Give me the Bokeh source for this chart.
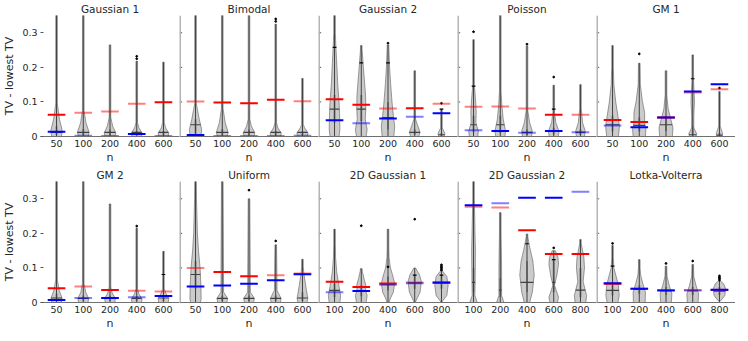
import numpy as np
from bokeh.plotting import figure
from bokeh.layouts import gridplot
from bokeh.models import Range1d, FixedTicker, ColumnDataSource, Span
from bokeh.embed import file_html
from bokeh.resources import INLINE

# ---------------- data ----------------
TITLES = ["Gaussian 1", "Bimodal", "Gaussian 2", "Poisson", "GM 1",
          "GM 2", "Uniform", "2D Gaussian 1", "2D Gaussian 2", "Lotka-Volterra"]
N_LABELS_A = ["50", "100", "200", "400", "600"]
N_LABELS_B = ["100", "200", "400", "600", "800"]
PANEL_N_LABELS = [N_LABELS_A] * 7 + [N_LABELS_B] * 3
Y_TICKS = [0, 0.1, 0.2, 0.3]
Y_TICK_LABELS = ["0", "0.1", "0.2", "0.3"]
X_LABEL = "n"
Y_LABEL = "TV - lowest TV"

RED_VALUES = [
    [0.063, 0.069, 0.072, 0.095, 0.099],
    [0.101, 0.098, 0.096, 0.106, 0.102],
    [0.108, 0.092, 0.081, 0.082, 0.095],
    [0.086, 0.087, 0.081, 0.063, 0.063],
    [0.048, 0.042, 0.055, 0.127, 0.137],
    [0.041, 0.046, 0.036, 0.034, 0.032],
    [0.100, 0.088, 0.076, 0.079, 0.084],
    [0.060, 0.045, 0.055, 0.058, 0.057],
    [0.277, 0.275, 0.209, 0.140, 0.140],
    [0.054, 0.040, 0.036, 0.036, 0.036],
]
RED_ALPHA = [
    [1, .5, .5, .5, 1],
    [.5, 1, 1, 1, .5],
    [1, 1, .5, 1, .5],
    [.5, .5, .5, 1, .5],
    [1, 1, 1, .5, .5],
    [1, .5, 1, .5, .5],
    [.5, 1, 1, .5, .5],
    [1, 1, 1, .5, 1],
    [.5, .5, 1, 1, 1],
    [1, .5, .5, .5, 1],
]
BLUE_VALUES = [
    [0.014, 0.002, 0.000, 0.007, 0.000],
    [0.004, 0.000, 0.000, 0.000, 0.002],
    [0.047, 0.038, 0.052, 0.057, 0.067],
    [0.018, 0.016, 0.011, 0.016, 0.012],
    [0.032, 0.027, 0.055, 0.130, 0.151],
    [0.007, 0.013, 0.013, 0.015, 0.019],
    [0.046, 0.049, 0.054, 0.064, 0.082],
    [0.030, 0.033, 0.051, 0.056, 0.058],
    [0.281, 0.287, 0.303, 0.303, 0.320],
    [0.056, 0.040, 0.035, 0.035, 0.037],
]
BLUE_ALPHA = [
    [1, .5, 1, 1, 1],
    [1, 1, 1, 1, .5],
    [1, .5, 1, .5, 1],
    [.5, 1, .5, 1, .5],
    [.5, 1, 1, 1, 1],
    [1, .5, 1, .5, 1],
    [1, 1, 1, 1, 1],
    [.5, 1, .5, .5, 1],
    [1, .5, 1, 1, .5],
    [1, 1, 1, .5, 1],
]
WHISKER_TOP = [
    [0.36, 0.36, 0.265, 0.218, 0.215],
    [0.36, 0.36, 0.36, 0.325, 0.168],
    [0.36, 0.263, 0.265, 0.190, 0.079],
    [0.280, 0.36, 0.262, 0.148, 0.150],
    [0.263, 0.212, 0.190, 0.236, 0.130],
    [0.36, 0.36, 0.285, 0.215, 0.148],
    [0.36, 0.36, 0.300, 0.167, 0.125],
    [0.212, 0.098, 0.212, 0.100, 0.088],
    [0.36, 0.260, 0.198, 0.150, 0.182],
    [0.165, 0.124, 0.105, 0.110, 0.062],
]
OUTLIERS = [
    [[], [], [], [0.225, 0.232], []],
    [[], [], [], [0.333, 0.340], []],
    [[], [], [0.270], [], [0.096]],
    [[0.303], [], [0.267], [0.172], []],
    [[], [0.239], [], [], [0.140]],
    [[], [], [], [0.221], []],
    [[], [], [0.325], [0.178], []],
    [[], [0.222], [0.103], [0.241], [0.093, 0.097, 0.101, 0.105, 0.109]],
    [[], [], [], [0.158], []],
    [[0.171], [], [0.113], [0.120], [0.065, 0.069, 0.073, 0.077]],
]
MEDIANS = [
    [0.012, 0.012, 0.012, 0.012, 0.012],
    [0.034, 0.012, 0.012, 0.012, 0.012],
    [0.079, 0.079, 0.055, 0.012, 0.005],
    [0.034, 0.034, 0.012, 0.015, 0.012],
    [0.034, 0.032, 0.034, 0.005, 0.004],
    [0.013, 0.012, 0.012, 0.012, 0.013],
    [0.081, 0.012, 0.012, 0.012, 0.013],
    [0.035, 0.033, 0.053, 0.057, 0.057],
    [0.058, 0.036, 0.058, 0.058, 0.036],
    [0.035, 0.038, 0.034, 0.034, 0.033],
]
Q1 = [
    [0.004, 0.004, 0.004, 0.004, 0.004],
    [0.008, 0.004, 0.004, 0.004, 0.004],
    [0.040, 0.045, 0.020, 0.005, 0.000],
    [0.012, 0.010, 0.004, 0.006, 0.004],
    [0.015, 0.015, 0.015, 0.002, 0.001],
    [0.004, 0.004, 0.004, 0.004, 0.004],
    [0.040, 0.004, 0.004, 0.004, 0.004],
    [0.015, 0.018, 0.035, 0.040, 0.040],
    [0.030, 0.015, 0.030, 0.030, 0.015],
    [0.020, 0.025, 0.022, 0.022, 0.022],
]
Q3 = [
    [0.030, 0.022, 0.020, 0.016, 0.016],
    [0.050, 0.022, 0.020, 0.016, 0.015],
    [0.120, 0.120, 0.100, 0.020, 0.010],
    [0.060, 0.060, 0.020, 0.025, 0.020],
    [0.060, 0.055, 0.060, 0.030, 0.010],
    [0.025, 0.020, 0.020, 0.018, 0.020],
    [0.120, 0.020, 0.020, 0.020, 0.030],
    [0.055, 0.050, 0.075, 0.079, 0.079],
    [0.100, 0.070, 0.120, 0.124, 0.100],
    [0.055, 0.050, 0.045, 0.045, 0.045],
]
MARKS = [
    [[], [], [], [], []],
    [[], [], [], [], []],
    [[0.258], [0.213], [0.213], [], [0.079]],
    [[0.146], [], [], [0.079], []],
    [[], [], [], [0.167], []],
    [[], [], [], [], [0.081]],
    [[], [], [], [], []],
    [[], [], [], [0.079], [0.079]],
    [[], [], [0.170], [0.124], []],
    [[0.105], [], [], [], []],
]
# violin outline knots: (value, half width in category units)
SHAPES = [
    [[(0, .18), (.015, .22), (.05, .11), (.095, .03)],
     [(0, .18), (.012, .22), (.04, .10), (.075, .03)],
     [(0, .18), (.010, .22), (.03, .10), (.055, .03)],
     [(0, .18), (.010, .20), (.025, .08), (.04, .03)],
     [(0, .18), (.010, .20), (.025, .08), (.04, .03)]],
    [[(0, .20), (.02, .23), (.05, .14), (.095, .03)],
     [(0, .18), (.012, .22), (.04, .11), (.08, .03)],
     [(0, .18), (.010, .22), (.03, .09), (.05, .03)],
     [(0, .18), (.010, .21), (.025, .08), (.04, .03)],
     [(0, .18), (.010, .21), (.025, .08), (.035, .03)]],
    [[(0, .17), (.02, .20), (.06, .19), (.10, .17), (.15, .12), (.20, .09), (.26, .05), (.30, .03)],
     [(0, .18), (.02, .22), (.05, .15), (.08, .17), (.12, .16), (.20, .08), (.25, .03)],
     [(0, .22), (.03, .25), (.06, .20), (.10, .15), (.15, .10), (.20, .06), (.26, .03)],
     [(0, .15), (.012, .20), (.03, .12), (.05, .03)],
     [(0, .10), (.008, .13), (.025, .03)]],
    [[(0, .16), (.015, .18), (.04, .09), (.07, .10), (.10, .08), (.15, .03)],
     [(0, .17), (.015, .20), (.05, .11), (.09, .06), (.13, .03)],
     [(0, .17), (.015, .20), (.04, .10), (.075, .03)],
     [(0, .17), (.015, .20), (.04, .08), (.07, .03)],
     [(0, .15), (.015, .18), (.04, .08), (.08, .03)]],
    [[(0, .22), (.03, .26), (.06, .20), (.10, .12), (.15, .05), (.20, .03)],
     [(0, .23), (.02, .25), (.04, .20), (.07, .20), (.10, .12), (.15, .04)],
     [(0, .24), (.025, .26), (.05, .18), (.08, .08), (.12, .03)],
     [(0, .12), (.008, .15), (.025, .04), (.06, .04), (.10, .065), (.13, .05), (.16, .03)],
     [(0, .10), (.008, .12), (.03, .03)]],
    [[(0, .18), (.012, .21), (.035, .10), (.065, .03)],
     [(0, .18), (.012, .20), (.03, .09), (.055, .03)],
     [(0, .18), (.012, .20), (.028, .08), (.045, .03)],
     [(0, .18), (.010, .20), (.025, .08), (.04, .03)],
     [(0, .18), (.012, .20), (.028, .08), (.04, .03)]],
    [[(0, .18), (.01, .21), (.05, .20), (.10, .17), (.15, .11), (.20, .07), (.30, .035)],
     [(0, .17), (.012, .20), (.03, .05)],
     [(0, .17), (.012, .20), (.03, .05)],
     [(0, .17), (.012, .20), (.035, .05)],
     [(0, .17), (.012, .20), (.05, .12), (.085, .05), (.105, .03)]],
    [[(0, .20), (.02, .23), (.05, .16), (.09, .08), (.13, .04), (.17, .03)],
     [(0, .18), (.02, .22), (.035, .16), (.05, .17), (.07, .10), (.09, .04)],
     [(0, .04), (.01, .08), (.03, .20), (.055, .25), (.08, .17), (.10, .09), (.13, .04), (.16, .03)],
     [(0, .02), (.01, .08), (.03, .20), (.06, .25), (.08, .18), (.10, .03)],
     [(0, .01), (.005, .05), (.02, .20), (.05, .25), (.075, .20), (.09, .05)]],
    [[(0, .14), (.02, .05), (.06, .06), (.15, .07), (.22, .05), (.30, .03)],
     [(0, .14), (.02, .05), (.10, .05), (.20, .03)],
     [(0, .10), (.03, .20), (.08, .27), (.12, .22), (.16, .10), (.19, .03)],
     [(0, .14), (.015, .18), (.05, .03), (.08, .12), (.11, .18), (.13, .16), (.15, .06)],
     [(0, .20), (.02, .23), (.06, .10), (.10, .15), (.13, .13), (.17, .03)]],
    [[(0, .20), (.02, .25), (.05, .22), (.08, .12), (.10, .05), (.13, .03)],
     [(0, .22), (.03, .23), (.055, .13), (.08, .05), (.10, .03)],
     [(0, .20), (.025, .22), (.05, .12), (.075, .04), (.095, .03)],
     [(0, .20), (.025, .22), (.05, .12), (.075, .04), (.10, .03)],
     [(.005, .05), (.02, .20), (.04, .23), (.055, .15), (.062, .04)]],
]

FONT = "DejaVu Sans"
TEXT_COLOR = "#262626"
LINE_HW = 0.33
SPIKE_HW = 0.03
X_LO, X_HI = 0.4, 5.6


def make_panel(i):
    first = (i % 5 == 0)
    pos = np.arange(1, 6)
    p = figure(frame_width=139, frame_height=121,
               x_range=Range1d(X_LO, X_HI), y_range=Range1d(0, 0.35),
               output_backend="svg", toolbar_location=None,
               min_border_left=0, min_border_right=0,
               min_border_top=0, min_border_bottom=0,
               title=TITLES[i])
    p.outline_line_color = None
    p.grid.visible = False
    p.background_fill_color = "white"
    p.border_fill_color = "white"

    p.title.align = "center"
    p.title.text_font = FONT
    p.title.text_font_size = "10.5px"
    p.title.text_font_style = "normal"
    p.title.text_color = TEXT_COLOR
    p.title.standoff = 1

    # x axis
    xa = p.xaxis[0]
    xa.ticker = FixedTicker(ticks=list(pos))
    xa.major_label_overrides = {int(k): lab for k, lab in zip(pos, PANEL_N_LABELS[i])}
    xa.axis_label = X_LABEL
    xa.axis_label_text_font = FONT
    xa.axis_label_text_font_size = "11px"
    xa.axis_label_text_font_style = "normal"
    xa.axis_label_text_color = TEXT_COLOR
    xa.axis_label_standoff = 1
    xa.major_label_text_font = FONT
    xa.major_label_text_font_size = "9.5px"
    xa.major_label_text_color = TEXT_COLOR
    xa.major_label_standoff = 3
    xa.major_tick_in = 0
    xa.major_tick_out = 0
    xa.minor_tick_line_color = None
    xa.axis_line_color = "#707070"
    xa.axis_line_width = 1

    # y axis
    if first:
        ya = p.yaxis[0]
        ya.ticker = FixedTicker(ticks=Y_TICKS)
        ya.minor_tick_line_color = None
        ya.major_tick_out = 0
        ya.major_tick_in = 3
        ya.major_tick_line_color = "#555555"
        ya.major_label_overrides = {t: lab for t, lab in zip(Y_TICKS, Y_TICK_LABELS)}
        ya.axis_label = Y_LABEL
        ya.axis_label_text_font = FONT
        ya.axis_label_text_font_size = "11px"
        ya.axis_label_text_font_style = "normal"
        ya.axis_label_text_color = TEXT_COLOR
        ya.axis_label_standoff = 3
        ya.major_label_text_font = FONT
        ya.major_label_text_font_size = "9.5px"
        ya.major_label_text_color = TEXT_COLOR
        ya.major_label_standoff = 3
        ya.axis_line_color = None
    else:
        p.yaxis.visible = False
        p.add_layout(Span(location=X_LO, dimension="height", line_color="#b4b4b4", line_width=3))
        tk = Y_TICKS[1:]
        p.segment(x0=[X_LO] * len(tk), x1=[X_LO + 0.1] * len(tk), y0=tk, y1=tk,
                  line_color="#555555", line_width=1)

    # violins
    xs, ys = [], []
    med_x0, med_x1 = [], []
    for j in range(5):
        knots = list(SHAPES[i][j]) + [(WHISKER_TOP[i][j], SPIKE_HW), (WHISKER_TOP[i][j], 0.0)]
        ky = np.array([k[0] for k in knots])
        kw = np.array([k[1] for k in knots])
        xs.append(list(pos[j] + kw) + list((pos[j] - kw)[::-1]))
        ys.append(list(ky) + list(ky[::-1]))
        hw = float(np.interp(MEDIANS[i][j], ky[:-1], kw[:-1]))
        med_x0.append(pos[j] - hw)
        med_x1.append(pos[j] + hw)
    p.patches(xs, ys, fill_color="#cbcbcb", line_color="#5e5e5e", line_width=0.6)

    # boxes (IQR)
    p.segment(x0=pos, x1=pos, y0=Q1[i], y1=Q3[i], line_color="#858585", line_width=2)
    # whiskers
    p.segment(x0=pos, x1=pos, y0=[0] * 5, y1=WHISKER_TOP[i], line_color="#404040", line_width=1)
    # medians
    p.segment(x0=med_x0, x1=med_x1, y0=MEDIANS[i], y1=MEDIANS[i], line_color="#404040", line_width=1.2)
    # marks
    mx0, mx1, my = [], [], []
    for j in range(5):
        for v in MARKS[i][j]:
            mx0.append(pos[j] - 0.07)
            mx1.append(pos[j] + 0.07)
            my.append(v)
    if my:
        p.segment(x0=mx0, x1=mx1, y0=my, y1=my, line_color="black", line_width=1.2)
    # outliers
    ox, oy = [], []
    for j in range(5):
        for v in OUTLIERS[i][j]:
            ox.append(pos[j])
            oy.append(v)
    if oy:
        p.scatter(ox, oy, size=1.8, color="black")

    # red and blue reference lines
    red = ColumnDataSource(dict(x0=pos - LINE_HW, x1=pos + LINE_HW, y=RED_VALUES[i], a=RED_ALPHA[i]))
    p.segment(x0="x0", x1="x1", y0="y", y1="y", source=red, line_color="#ff0000", line_alpha="a", line_width=2)
    blue = ColumnDataSource(dict(x0=pos - LINE_HW, x1=pos + LINE_HW, y=BLUE_VALUES[i], a=BLUE_ALPHA[i]))
    p.segment(x0="x0", x1="x1", y0="y", y1="y", source=blue, line_color="#0000ff", line_alpha="a", line_width=2)
    return p


panels = [make_panel(i) for i in range(10)]
grid = gridplot([panels[:5], panels[5:]], toolbar_location=None)

open("out.html", "w").write(file_html(grid, INLINE))
